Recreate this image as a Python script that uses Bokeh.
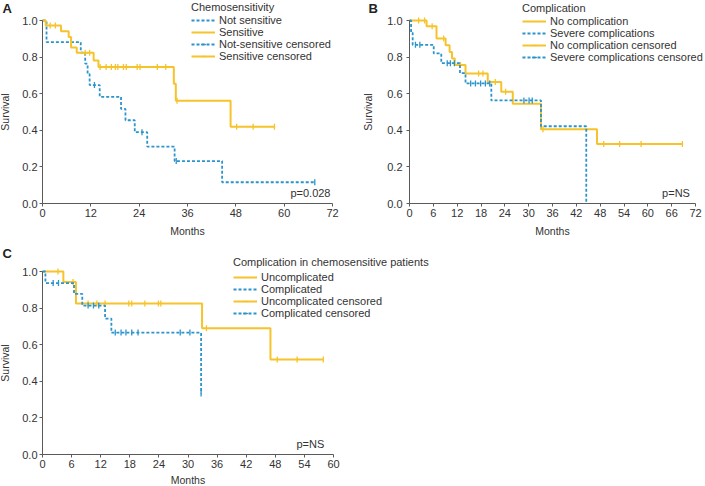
import numpy as np
from bokeh.plotting import figure
from bokeh.models import (Range1d, FixedTicker, Legend, LegendItem, Label,
                          PrintfTickFormatter, LinearAxis)
from bokeh.layouts import column, row
from bokeh.embed import file_html
from bokeh.resources import INLINE

YELLOW = "#F6C32B"
BLUE = "#2B94CC"
FONT = "Liberation Sans"
AXC = "#5a5a5a"
TXT = "#333333"

# ---------------- Panel A: chemosensitivity ----------------
a_sens_t = [0, 0.8, 4.6, 6.5, 7.1, 8.5, 12.7, 13.9, 32.6, 33.1, 46.7, 57.6]
a_sens_s = [1.0, 0.973, 0.941, 0.91, 0.853, 0.824, 0.782, 0.746, 0.655, 0.561, 0.42, 0.42]
a_sens_c = [1.9, 3.2, 10.6, 11.7, 14.3, 15.8, 17.1, 18.1, 18.7, 20.1, 20.8, 23.5, 24.2,
            28.5, 30.6, 33.4, 48.2, 52.3, 57.6]
a_nsen_t = [0, 1.0, 9.5, 10.6, 11.2, 11.7, 14.2, 19.5, 20.6, 22.9, 26.0, 32.8, 44.6, 67.6]
a_nsen_s = [1.0, 0.882, 0.824, 0.764, 0.707, 0.647, 0.583, 0.517, 0.455, 0.39, 0.311, 0.232, 0.116, 0.116]
a_nsen_c = [12.9, 24.7, 33.2, 67.6]
a_xticks = [0, 12, 24, 36, 48, 60, 72]
a_labels = ["Not sensitive", "Sensitive", "Not-sensitive censored", "Sensitive censored"]
a_title = "Chemosensitivity"
a_p = "p=0.028"

# ---------------- Panel B: complication ----------------
b_noc_t = [0, 4.3, 6.8, 9.1, 10.1, 10.7, 11.4, 14.1, 19.7, 23.1, 26.0, 33.1, 47.2, 68.7]
b_noc_s = [1.0, 0.969, 0.901, 0.865, 0.828, 0.792, 0.757, 0.71, 0.664, 0.61, 0.545, 0.406, 0.325, 0.325]
b_noc_c = [2.3, 3.8, 5.7, 8.6, 12.8, 17.4, 18.5, 21.6, 24.2, 33.6, 48.9, 52.9, 58.3, 68.7]
b_sev_t = [0, 0.4, 0.8, 6.1, 8.0, 12.7, 14.1, 20.6, 33.1, 44.5]
b_sev_s = [1.0, 0.933, 0.867, 0.82, 0.767, 0.712, 0.656, 0.563, 0.422, 0.0]
b_sev_c = [1.5, 2.6, 9.5, 10.3, 11.3, 15.4, 16.6, 17.9, 19.1, 20.2, 28.8, 30.1, 30.9]
b_xticks = list(range(0, 73, 6))
b_labels = ["No complication", "Severe complications", "No complication censored",
            "Severe complications censored"]
b_title = "Complication"
b_p = "p=NS"

# ---------------- Panel C: complication in chemosensitive ----------------
c_unc_t = [0, 4.3, 6.9, 32.9, 47.0, 57.9]
c_unc_s = [1.0, 0.942, 0.825, 0.69, 0.519, 0.519]
c_unc_c = [3.2, 6.3, 9.4, 11.2, 12.9, 17.8, 18.4, 21.1, 23.9, 24.4, 33.8, 48.4, 52.5, 57.9]
c_com_t = [0, 0.6, 6.5, 8.2, 12.9, 14.2, 32.7]
c_com_s = [1.0, 0.937, 0.878, 0.814, 0.743, 0.666, 0.333]
c_com_c = [2.2, 3.3, 9.4, 10.5, 11.6, 15.0, 16.2, 17.2, 18.4, 19.7, 28.4, 30.4, 32.7]
c_xticks = list(range(0, 61, 6))
c_labels = ["Uncomplicated", "Complicated", "Uncomplicated censored", "Complicated censored"]
c_title = "Complication in chemosensitive patients"
c_p = "p=NS"

y_ticks = [0.0, 0.2, 0.4, 0.6, 0.8, 1.0]


def surv_at(times, surv, pts):
    t = np.asarray(times)
    s = np.asarray(surv)
    idx = np.searchsorted(t, np.asarray(pts), side="right") - 1
    return s[idx]


def panel(W, H, ax_left, ax_right, ax_top, ax_bottom, xmax, xticks, letter, letter_xy,
          ylab_standoff, ytick_standoff, xlab_standoff):
    # the plotting frame covers the whole figure; axes sit at x=0 / y=0
    kx = (ax_right - ax_left) / xmax
    ky = (ax_bottom - ax_top)
    xr = Range1d(-ax_left / kx, (W - ax_left) / kx)
    yr = Range1d((ax_bottom - H) / ky, ax_bottom / ky)
    p = figure(width=W, height=H, x_range=xr, y_range=yr, output_backend="svg",
               toolbar_location=None, x_axis_location=None, y_axis_location=None,
               min_border=0, min_border_left=0, min_border_right=0,
               min_border_top=0, min_border_bottom=0)
    p.outline_line_color = None
    p.grid.visible = False
    xa = LinearAxis(fixed_location=0, bounds=(0, xmax), ticker=FixedTicker(ticks=xticks),
                    axis_label="Months")
    ya = LinearAxis(fixed_location=0, bounds=(0, 1), ticker=FixedTicker(ticks=y_ticks),
                    formatter=PrintfTickFormatter(format="%.1f"), axis_label="Survival")
    for ax in (xa, ya):
        ax.axis_line_color = AXC
        ax.major_tick_line_color = AXC
        ax.major_tick_out = 3
        ax.major_tick_in = 0
        ax.minor_tick_line_color = None
        ax.major_label_standoff = 2
        ax.major_label_text_font = FONT
        ax.major_label_text_font_size = "11px"
        ax.major_label_text_color = TXT
        ax.axis_label_text_font = FONT
        ax.axis_label_text_font_size = "10.5px"
        ax.axis_label_text_font_style = "normal"
        ax.axis_label_text_color = TXT
    xa.axis_label_standoff = xlab_standoff
    ya.axis_label_standoff = ylab_standoff
    ya.major_label_standoff = ytick_standoff
    p.add_layout(xa, "below")
    p.add_layout(ya, "left")
    p.add_layout(Label(x=letter_xy[0], y=H - letter_xy[1], x_units="screen", y_units="screen",
                       text=letter, text_font=FONT, text_font_style="bold",
                       text_font_size="13px", text_baseline="top", text_color="#222222"))
    return p


def curve(p, t, s, c, color, dash):
    r1 = p.step(t, s, mode="after", line_color=color, line_width=1.8 if dash else 2.0,
                line_dash=dash if dash else "solid")
    r2 = p.scatter(c, surv_at(t, s, c), marker="dash", angle=np.pi / 2, size=6,
                   line_color=color, line_width=1.3)
    return r1, r2


def add_legend(p, title, labels, rr, loc, title_gap=1):
    (l1, s1), (l2, s2) = rr
    items = [LegendItem(label=labels[0], renderers=[l1]),
             LegendItem(label=labels[1], renderers=[l2]),
             LegendItem(label=labels[2], renderers=[l1, s1]),
             LegendItem(label=labels[3], renderers=[l2, s2])]
    lg = Legend(items=items, location=loc, title=title, border_line_color=None,
                background_fill_alpha=0, padding=0, margin=0, spacing=0,
                label_height=12, glyph_height=12, glyph_width=24, label_standoff=4,
                label_text_font=FONT, label_text_font_size="11px", label_text_color=TXT,
                title_text_font=FONT, title_text_font_size="11px",
                title_text_font_style="normal", title_text_color=TXT,
                title_standoff=title_gap)
    p.add_layout(lg)


def add_p(p, x, text):
    p.add_layout(Label(x=x, y=0.055, text=text, text_align="right", text_baseline="middle",
                       text_font=FONT, text_font_size="11px", text_color=TXT))


# Panel A  (page box 0..360 x 0..240)
pA = panel(360, 240, 42, 332, 20, 203, 72, a_xticks, "A", (2, 0), 8, 2, 5)
rA_n = curve(pA, a_nsen_t, a_nsen_s, a_nsen_c, BLUE, "3 2")
rA_s = curve(pA, a_sens_t, a_sens_s, a_sens_c, YELLOW, None)
add_legend(pA, a_title, a_labels, [rA_n, rA_s], (191, 178))
add_p(pA, 71.5, a_p)

# Panel B  (page box 360..705 x 0..240)
pB = panel(345, 240, 49, 335, 20, 203, 72, b_xticks, "B", (8, 0), 10, 4, 5)
rB_y = curve(pB, b_noc_t, b_noc_s, b_noc_c, YELLOW, None)
rB_b = curve(pB, b_sev_t, b_sev_s, b_sev_c, BLUE, "3 2")
add_legend(pB, b_title, b_labels, [rB_y, rB_b], (162, 177))
add_p(pB, 70.6, b_p)

# Panel C  (page box 0..705 x 240..486)
pC = panel(705, 246, 42, 333, 31, 214, 60, c_xticks, "C", (2, 5), 8, 2, 3)
rC_y = curve(pC, c_unc_t, c_unc_s, c_unc_c, YELLOW, None)
rC_b = curve(pC, c_com_t, c_com_s, c_com_c, BLUE, "3 2")
add_legend(pC, c_title, c_labels, [rC_y, rC_b], (233, 167), title_gap=3)
add_p(pC, 58.1, c_p)

layout = column(row(pA, pB), pC)

open("out.html", "w").write(file_html(layout, INLINE))
